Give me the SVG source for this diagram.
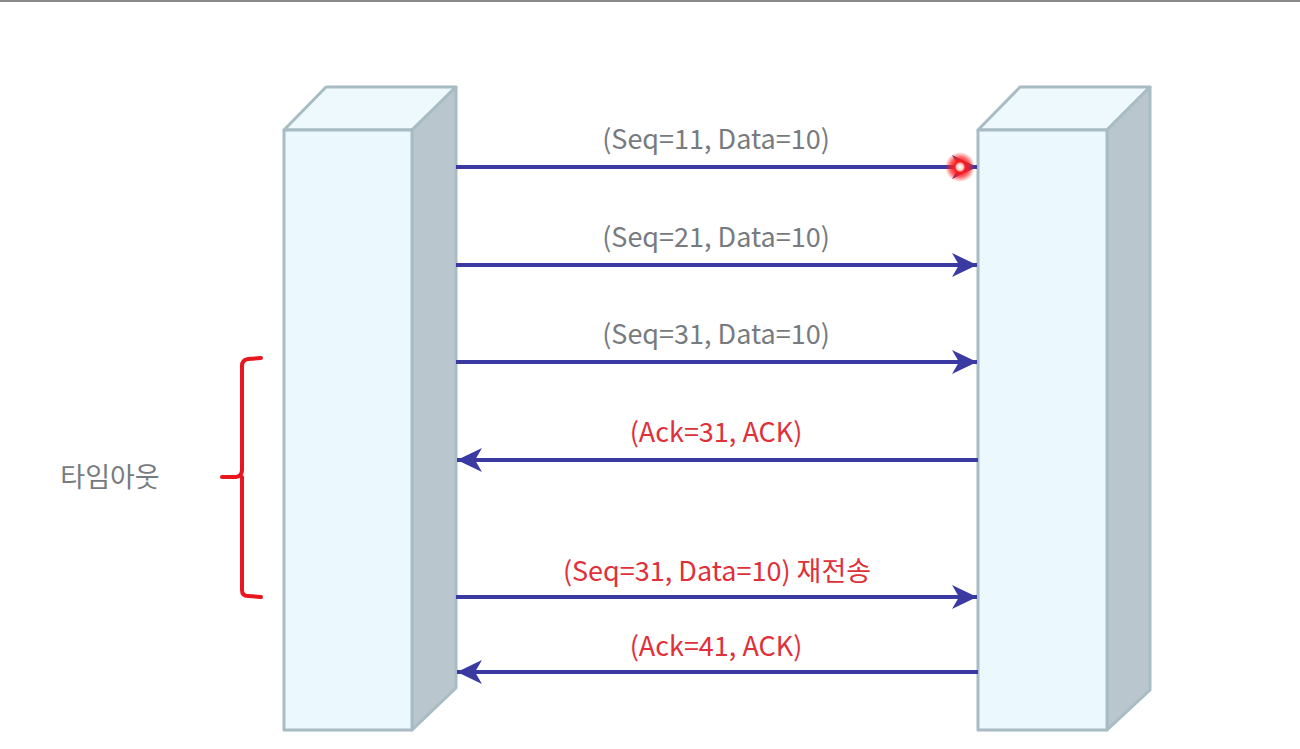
<svg xmlns="http://www.w3.org/2000/svg" width="1300" height="749" viewBox="0 0 1300 749">
<defs>
<style>
.front{fill:#ebf8fd;stroke:#a8bcc3;stroke-width:3;stroke-linejoin:round}
.top{fill:#eef9fd;stroke:#a8bcc3;stroke-width:3;stroke-linejoin:round}
.side{fill:#b9c6ce;stroke:#a8bcc3;stroke-width:3;stroke-linejoin:round}
.msg{stroke:#3b3aa3;stroke-width:4;fill:none}
.lbl{font-family:"Noto Sans CJK KR","Noto Sans",sans-serif;font-size:27px;text-anchor:middle}
.gray{fill:#777b80}
.red{fill:#e0303a}
</style>
<marker id="ah" viewBox="0 0 26 24" refX="25" refY="12" markerWidth="26" markerHeight="24" markerUnits="userSpaceOnUse" orient="auto">
<path d="M25,12 L0,0 L7,12 L0,24 Z" fill="#3b3aa3"/>
</marker>
<radialGradient id="glow">
<stop offset="0" stop-color="#ffffff"/>
<stop offset="0.22" stop-color="#ffd0d0"/>
<stop offset="0.35" stop-color="#ff1a1a"/>
<stop offset="0.65" stop-color="#ff2020" stop-opacity="0.7"/>
<stop offset="1" stop-color="#ff2020" stop-opacity="0"/>
</radialGradient>
</defs>
<rect width="1300" height="749" fill="#ffffff"/>
<line x1="0" y1="1" x2="1300" y2="1" stroke="#8a8a8a" stroke-width="2"/>
<g id="host-a">
<polygon class="top" points="284,130 326,87 456,87 412,130"/>
<polygon class="side" points="412,130 456,87 456,688 412,730"/>
<rect class="front" x="284" y="130" width="128" height="600"/>
</g>
<g id="host-b">
<polygon class="top" points="978,130 1020,87 1150,87 1107,130"/>
<polygon class="side" points="1107,130 1150,87 1150,690 1107,730"/>
<rect class="front" x="978" y="130" width="129" height="600"/>
</g>
<g id="connectors">
<line class="msg" x1="456" y1="167" x2="977" y2="167" marker-end="url(#ah)"/>
<line class="msg" x1="456" y1="265" x2="977" y2="265" marker-end="url(#ah)"/>
<line class="msg" x1="456" y1="362" x2="977" y2="362" marker-end="url(#ah)"/>
<line class="msg" x1="978" y1="460" x2="457" y2="460" marker-end="url(#ah)"/>
<line class="msg" x1="456" y1="597" x2="977" y2="597" marker-end="url(#ah)"/>
<line class="msg" x1="978" y1="672" x2="457" y2="672" marker-end="url(#ah)"/>
</g>
<g id="loss-marker">
<circle cx="960" cy="167" r="15" fill="url(#glow)"/>
</g>
<g id="labels">
<text class="lbl gray" x="716" y="149">(Seq=11, Data=10)</text>
<text class="lbl gray" x="716" y="247">(Seq=21, Data=10)</text>
<text class="lbl gray" x="716" y="344">(Seq=31, Data=10)</text>
<text class="lbl red" x="716" y="442">(Ack=31, ACK)</text>
<text class="lbl red" x="717" y="581">(Seq=31, Data=10) 재전송</text>
<text class="lbl red" x="716" y="656">(Ack=41, ACK)</text>
</g>
<g id="timeout">
<path d="M261,358 L248,359 Q242,360 242,366 L242,470 Q242,476 236,477 L222,477 M242,477 L242,590 Q242,596 248,596 L261,597" fill="none" stroke="#e8171f" stroke-width="4" stroke-linecap="round"/>
<text class="lbl gray" x="110" y="487">타임아웃</text>
</g>
</svg>
